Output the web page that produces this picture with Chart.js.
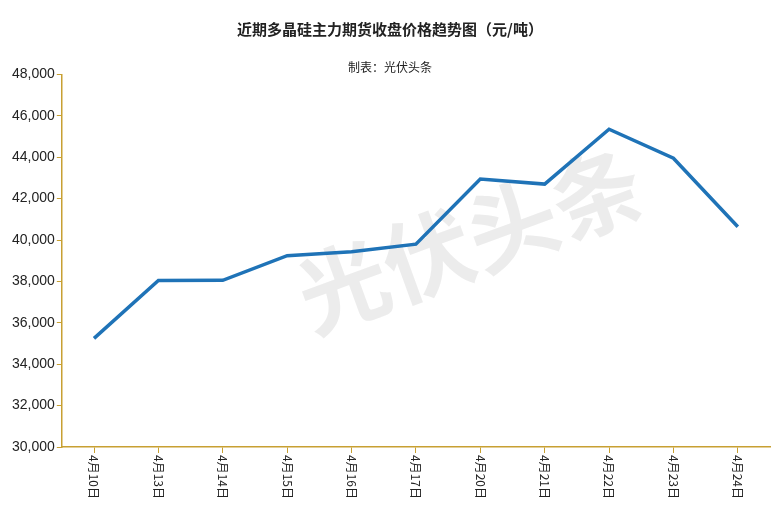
<!DOCTYPE html>
<html>
<head>
<meta charset="utf-8">
<script src="https://cdn.jsdelivr.net/npm/chart.js@4"></script>
<style>
body{margin:0;background:#fff;}
#wrap{width:776px;height:527px;}
</style>
</head>
<body>
<div id="wrap"><canvas id="c"></canvas></div>
<script>
var dates = ["4月10日","4月13日","4月14日","4月15日","4月16日","4月17日","4月20日","4月21日","4月22日","4月23日","4月24日"];
var prices = [35250, 38040, 38050, 39240, 39430, 39800, 42950, 42700, 45350, 43950, 40640];

// x labels written top-to-bottom, rotated clockwise
var vertLabels = {
	id: 'vertLabels',
	afterDraw: function(chart){
		var ctx = chart.ctx, xs = chart.scales.x;
		ctx.save();
		ctx.font = '12px "Noto Sans CJK SC"';
		ctx.fillStyle = '#222';
		ctx.textBaseline = 'middle';
		ctx.textAlign = 'left';
		for(var i=0;i<dates.length;i++){
			var x = xs.getPixelForTick(i);
			ctx.save();
			ctx.translate(x, xs.top + 8);
			ctx.rotate(Math.PI/2);
			ctx.fillText(dates[i], 0, 0);
			ctx.restore();
		}
		ctx.restore();
	}
};

var watermark = {
	id: 'watermark',
	beforeDatasetsDraw: function(chart){
		var ctx = chart.ctx;
		ctx.save();
		ctx.translate(470, 240);
		ctx.rotate(-0.35);
		ctx.font = 'bold 90px "Noto Sans CJK SC"';
		ctx.fillStyle = 'rgba(200,200,200,0.35)';
		ctx.textAlign = 'center';
		ctx.textBaseline = 'middle';
		ctx.fillText('光伏头条', 0, 0);
		ctx.restore();
	}
};

new Chart(document.getElementById('c'), {
	type: 'line',
	data: {
		labels: dates,
		datasets: [{
			data: prices,
			borderColor: '#1f73b7',
			borderWidth: 3.5,
			pointRadius: 0,
			tension: 0,
			fill: false
		}]
	},
	options: {
		responsive: true,
		maintainAspectRatio: false,
		animation: false,
		layout: { padding: { left: 10, right: 6, top: 0, bottom: 0 } },
		plugins: {
			legend: { display: false },
			tooltip: { enabled: false },
			title: {
				display: true,
				text: '近期多晶硅主力期货收盘价格趋势图（元/吨）',
				font: { family: '"Noto Sans CJK SC"', size: 15, weight: 'bold' },
				color: '#222',
				padding: { top: 20, bottom: 22 }
			},
			subtitle: {
				display: true,
				text: '制表：光伏头条',
				font: { family: '"Noto Sans CJK SC"', size: 12 },
				color: '#222',
				padding: { bottom: 0 }
			}
		},
		scales: {
			x: {
				offset: true,
				grid: { display: true, drawOnChartArea: false, color: '#c8a032', tickLength: 6 },
				border: { color: '#c8a032', width: 1.5 },
				ticks: { display: false },
				afterFit: function(s){ s.height = 80; }
			},
			y: {
				min: 30000,
				max: 48000,
				grid: { display: true, drawOnChartArea: false, color: '#c8a032', tickLength: 5 },
				border: { color: '#c8a032', width: 1.5 },
				ticks: {
					stepSize: 2000,
					color: '#222',
					padding: 2,
					font: { family: '"Liberation Sans"', size: 14 },
					callback: function(v){ return v.toLocaleString('en-US'); }
				}
			}
		}
	},
	plugins: [watermark, vertLabels]
});
</script>
</body>
</html>
